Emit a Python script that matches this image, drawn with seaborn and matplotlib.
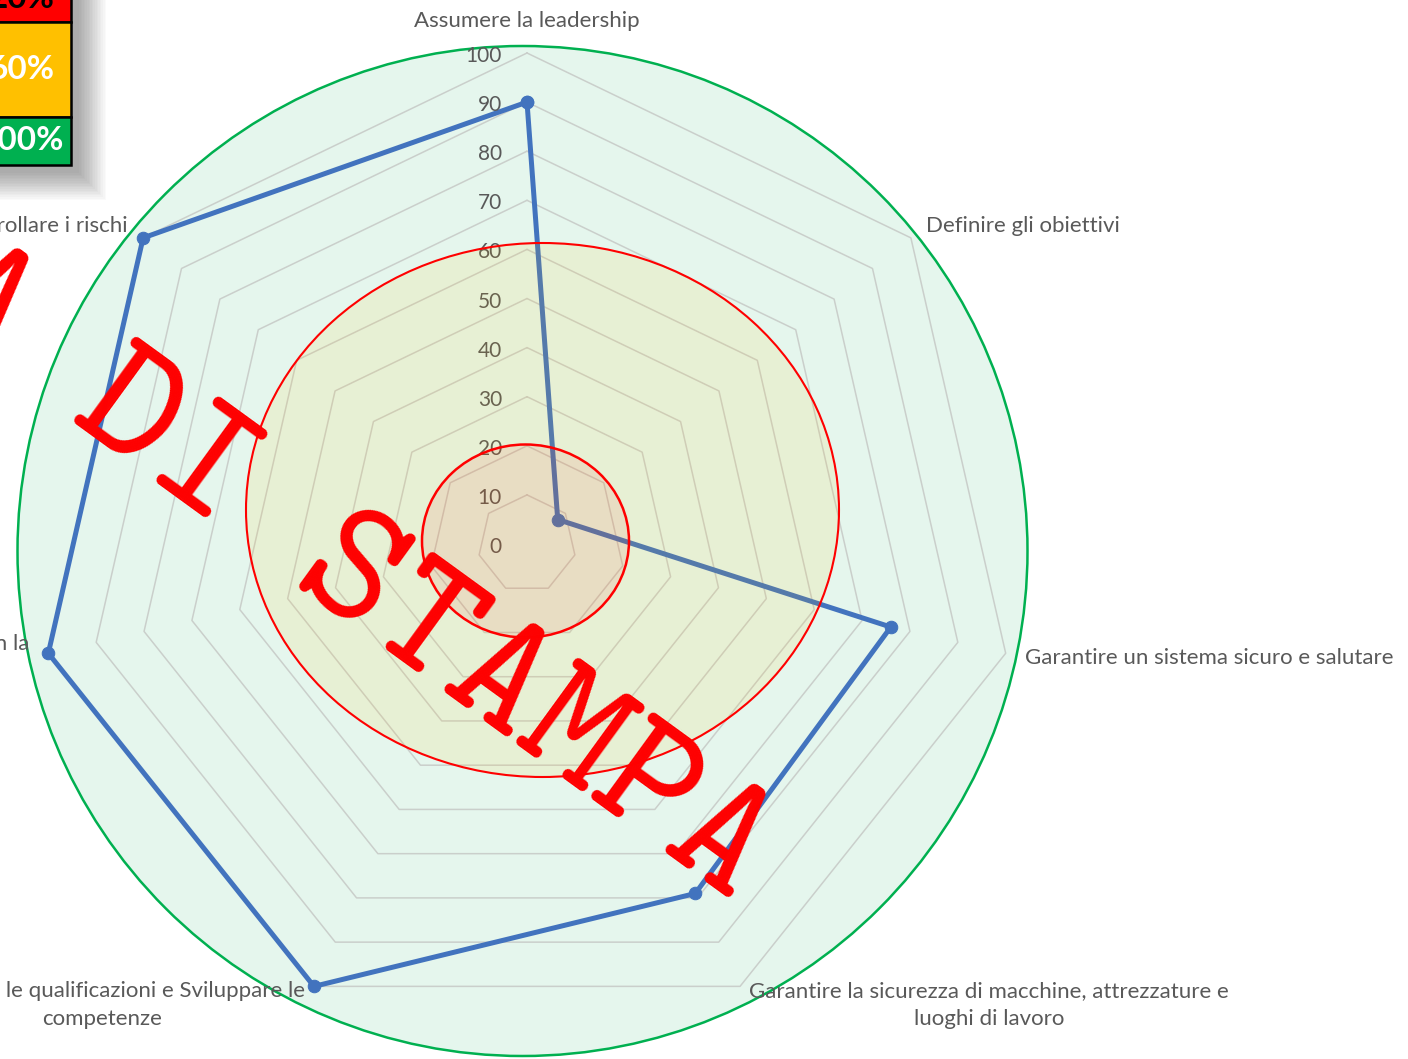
import numpy as np
import matplotlib
matplotlib.use("Agg")
import matplotlib.pyplot as plt
from matplotlib.patches import Ellipse, Circle, Rectangle
import seaborn as sns

# dati del grafico radar
categorie = [
    "Assumere la leadership",
    "Definire gli obiettivi",
    "Garantire un sistema sicuro e salutare",
    "Garantire la sicurezza di macchine, attrezzature e\nluoghi di lavoro",
    "Migliorare le qualificazioni e Sviluppare le\ncompetenze",
    "Investire nelle persone e motivare con la\npartecipazione",
    "Identificare i pericoli e controllare i rischi",
]
valori = [90, 8, 76, 79, 100, 100, 100]
livelli = [10, 20, 30, 40, 50, 60, 70, 80, 90, 100]
etichette_scala = [0, 10, 20, 30, 40, 50, 60, 70, 80, 90, 100]

# legenda soglie
soglie = ["20%", "60%", "100%"]
colori_soglie = ["#FF0000", "#FFC000", "#00B050"]
colori_testo_soglie = ["black", "white", "white"]

sns.set_theme(style="white")
plt.rcParams["font.family"] = ["Lato", "DejaVu Sans"]

W, H = 1408, 1059
fig = plt.figure(figsize=(W / 100, H / 100), dpi=100)
fig.patch.set_facecolor("white")

# sfondo: cerchio verde
ax_bg = fig.add_axes([0, 0, 1, 1], zorder=0)
ax_bg.set_xlim(0, W)
ax_bg.set_ylim(H, 0)
ax_bg.axis("off")
ax_bg.add_patch(Circle((522.5, 551), 505, facecolor="#00B050", alpha=0.1, edgecolor="none"))
ax_bg.add_patch(Circle((522.5, 551), 505, facecolor="none", edgecolor="#00B050", lw=1.8))

# radar
n = len(categorie)
theta = np.linspace(0, 2 * np.pi, n, endpoint=False)
theta_c = np.append(theta, theta[0] + 2 * np.pi)
val_c = valori + [valori[0]]

ax = fig.add_axes([36 / W, 24 / H, 982 / W, 982 / H], projection="polar", zorder=1)
ax.set_facecolor("none")
ax.set_theta_offset(np.pi / 2)
ax.set_theta_direction(-1)
ax.set_ylim(0, 100)
ax.grid(False)
ax.set_xticks([])
ax.set_yticks([])
ax.spines["polar"].set_visible(False)

for lv in livelli:
    ax.plot(theta_c, [lv] * (n + 1), color="#CACFCB", lw=1.1, clip_on=False, zorder=1)

sns.lineplot(x=theta_c, y=val_c, sort=False, estimator=None, ax=ax, color="#4273BE",
             lw=3.6, marker="o", markersize=9, markeredgecolor="#4273BE",
             clip_on=False, zorder=3)
ax.set_xlabel("")
ax.set_ylabel("")

for v in etichette_scala:
    ax.annotate(str(v), xy=(0, v), xytext=(-25, -3), textcoords="offset pixels",
                ha="right", va="center", color="#595959", fontsize=15)

# etichette delle categorie
for i, (t, lab) in enumerate(zip(theta, categorie)):
    s = np.sin(t)
    if i == 0:
        ax.text(t, 104.5, lab, ha="center", va="bottom", color="#595959", fontsize=16)
    elif abs(np.cos(t)) > 0.8:
        ax.annotate(lab, xy=(t, 100), xytext=(9 if s > 0 else -9, 5), textcoords="offset pixels",
                    ha="left" if s > 0 else "right", va="top", multialignment="center",
                    color="#595959", fontsize=16, linespacing=1.5)
    else:
        ax.text(t, 104, lab, ha="left" if s > 0 else "right", va="center",
                multialignment="center", color="#595959", fontsize=16, linespacing=1.5)

# sovrapposizioni: ellissi, legenda, filigrana
ax_top = fig.add_axes([0, 0, 1, 1], zorder=2)
ax_top.set_facecolor("none")
ax_top.set_xlim(0, W)
ax_top.set_ylim(H, 0)
ax_top.axis("off")

ax_top.add_patch(Ellipse((542.5, 510), 593, 534, facecolor="#FFC000", alpha=0.1, edgecolor="none"))
ax_top.add_patch(Ellipse((542.5, 510), 593, 534, facecolor="none", edgecolor="#FF0000", lw=1.5))
ax_top.add_patch(Ellipse((525.5, 541), 207, 193, facecolor="#FF0000", alpha=0.08, edgecolor="none"))
ax_top.add_patch(Ellipse((525.5, 541), 207, 193, facecolor="none", edgecolor="#FF0000", lw=1.8))

# ombra della legenda
for k in range(18):
    ax_top.add_patch(Rectangle((-30 + 8 - k * 1.6, -26 + 8 - k * 1.6), 101 + k * 3.2, 191 + k * 3.2,
                               facecolor="black", alpha=0.02, edgecolor="none"))
righe = [(-26, 48), (22, 95), (117, 48)]
for (y0, h), lab, fc, tc in zip(righe, soglie, colori_soglie, colori_testo_soglie):
    ax_top.add_patch(Rectangle((-30, y0), 101, h, facecolor=fc, edgecolor="black", lw=1.8))
    ax_top.text(22, y0 + h / 2, lab, ha="center", va="center", color=tc,
                fontsize=24, fontweight="bold")

ax_top.text(200, 472, "PROVA DI STAMPA", rotation=-36, rotation_mode="anchor",
            ha="center", va="center", fontfamily="cmtt10", fontsize=125, color="#FF0000")

fig.savefig("out.png", dpi=100)
